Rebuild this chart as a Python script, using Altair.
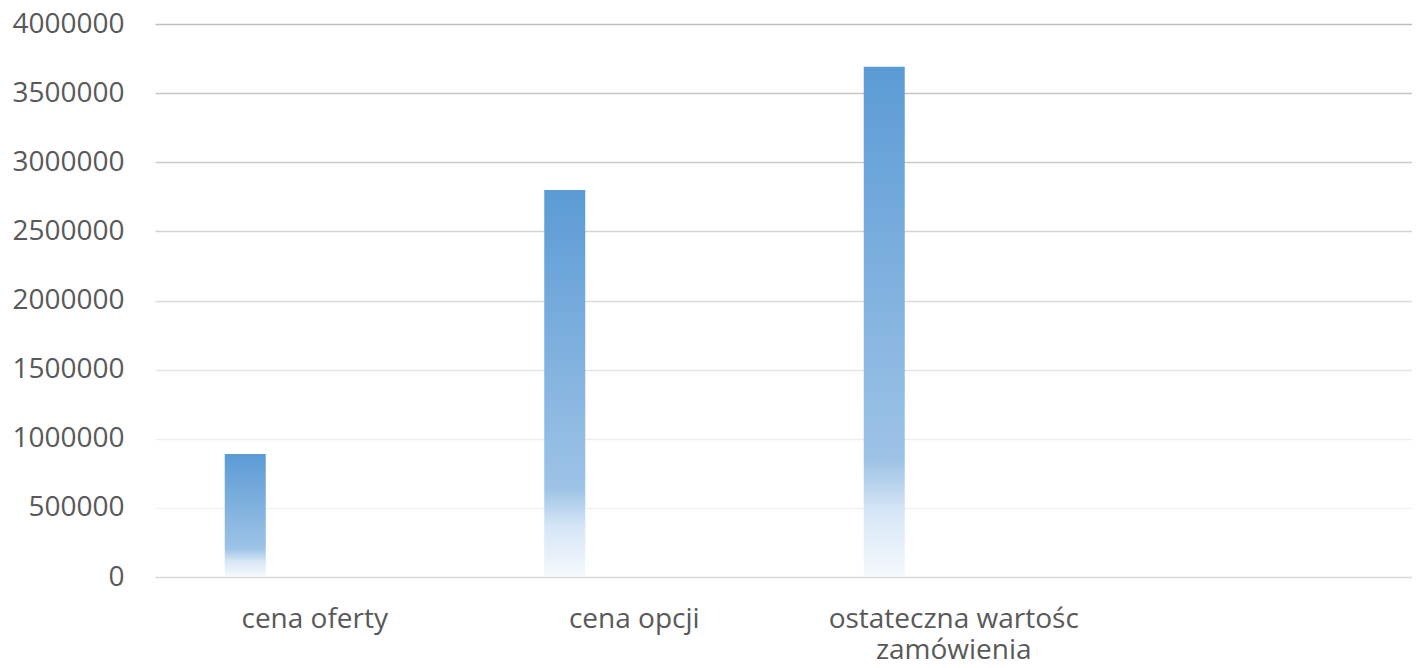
import altair as alt
import pandas as pd

categories = ["cena oferty", "cena opcji", "ostateczna wartośc zamówienia"]
values = [890000, 2800000, 3690000]
x_domain = categories + [""]
y_ticks = [0, 500000, 1000000, 1500000, 2000000, 2500000, 3000000, 3500000, 4000000]

df = pd.DataFrame({"kategoria": categories, "wartosc": values})

FONT = "Open Sans"
LABEL_COLOR = "#595959"

gradient = alt.LinearGradient(
    gradient="linear",
    x1=0, y1=0, x2=0, y2=1,
    stops=[
        alt.GradientStop(offset=0, color="#5b9bd5"),
        alt.GradientStop(offset=0.77, color="#9dc3e6"),
        alt.GradientStop(offset=0.87, color="#d6e6f6"),
        alt.GradientStop(offset=1, color="#f5f9fd"),
    ],
)

grid_color = {
    "condition": [
        {"test": "datum.value == 0", "value": "#d9d9d9"},
        {"test": "datum.value <= 500000", "value": "#f2f2f2"},
        {"test": "datum.value <= 1000000", "value": "#eeeeee"},
        {"test": "datum.value <= 1500000", "value": "#e5e5e5"},
        {"test": "datum.value <= 2000000", "value": "#dcdcdc"},
        {"test": "datum.value <= 2500000", "value": "#d3d3d3"},
        {"test": "datum.value <= 3000000", "value": "#cbcbcb"},
        {"test": "datum.value <= 3500000", "value": "#c5c5c5"},
    ],
    "value": "#bfbfbf",
}

chart = (
    alt.Chart(df)
    .mark_bar(color=gradient, width=41, xOffset=-69.5)
    .encode(
        x=alt.X(
            "kategoria:N",
            sort=x_domain,
            scale=alt.Scale(domain=x_domain, range=[0, 1278], paddingInner=0, paddingOuter=0),
            axis=alt.Axis(
                title=None,
                labelAngle=0,
                domain=False,
                ticks=False,
                grid=False,
                labelPadding=28,
                labelFont=FONT,
                labelFontSize=28,
                labelColor=LABEL_COLOR,
                labelLineHeight=31,
                labelLimit=0,
                labelExpr="datum.label == 'ostateczna wartośc zamówienia' ? ['ostateczna wartośc', 'zamówienia'] : datum.label",
            ),
        ),
        y=alt.Y(
            "wartosc:Q",
            scale=alt.Scale(domain=[0, 4000000], nice=False),
            axis=alt.Axis(
                title=None,
                values=y_ticks,
                format="d",
                domain=False,
                domainOpacity=0,
                ticks=False,
                labelPadding=31,
                labelFont=FONT,
                labelFontSize=28,
                labelColor=LABEL_COLOR,
                gridColor=grid_color,
                gridWidth=1.3,
            ),
        ),
    )
    .properties(
        width=1257,
        height=553,
        autosize=alt.AutoSizeParams(type="none"),
        padding={"left": 147, "top": 16, "right": 0, "bottom": 83},
        view=alt.ViewBackground(stroke="transparent", strokeWidth=0, strokeOpacity=0),
    )
    .configure_view(stroke="transparent", strokeWidth=0, strokeOpacity=0)
    .configure_axis(domain=False, domainOpacity=0)
    .configure(background="white", style={"cell": {"stroke": "transparent", "strokeWidth": 0}})
)

chart.save("out.html", embed_options={"renderer": "svg", "actions": False})
